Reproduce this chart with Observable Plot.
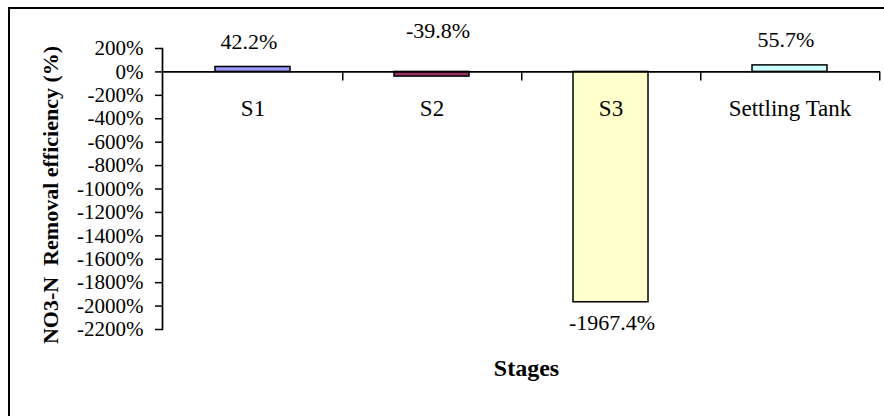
<!DOCTYPE html>
<html>
<head>
<meta charset="utf-8">
<script src="https://cdn.jsdelivr.net/npm/d3@7"></script>
<script src="https://cdn.jsdelivr.net/npm/@observablehq/plot@0.6"></script>
<style>
  html, body { margin: 0; padding: 0; background: #fff; overflow: hidden; }
  #wrap { position: relative; width: 884px; height: 416px; overflow: hidden; }
  #border { position: absolute; left: 8px; top: 7px; width: 1000px; height: 1000px;
            border-left: 2px solid #000; border-top: 2px solid #000; pointer-events: none; }
</style>
</head>
<body>
<div id="wrap"><div id="border"></div></div>
<script>
const categories = ["S1", "S2", "S3", "Settling Tank"];
const values = [42.2, -39.8, -1967.4, 55.7];
const valueLabels = ["42.2%", "-39.8%", "-1967.4%", "55.7%"];
const barColors = ["#9999ff", "#993366", "#ffffcc", "#ccffff"];
const yTicks = [200, 0, -200, -400, -600, -800, -1000, -1200, -1400, -1600, -1800, -2000, -2200];
const yTitle = "NO3-N\u00a0 Removal efficiency (%)";
const xTitle = "Stages";

const data = categories.map((c, i) => ({stage: c, value: values[i], label: valueLabels[i], color: barColors[i]}));

const W = 884, H = 416, mL = 162, mR = 4, mT = 48, mB = 87;
const step = (W - mL - mR) / categories.length;
const font = "'Liberation Serif', 'Times New Roman', serif";

const chart = Plot.plot({
  width: W, height: H,
  marginLeft: mL, marginRight: mR, marginTop: mT, marginBottom: mB,
  style: {fontFamily: font, background: "transparent", color: "#000", overflow: "visible"},
  x: {domain: categories, paddingInner: 0.58, paddingOuter: 0.29, axis: null},
  y: {domain: [-2200, 200], axis: null},
  color: {type: "identity"},
  marks: [
    Plot.barY(data, {x: "stage", y: "value", fill: "color", stroke: "#000", strokeWidth: 1.5}),
    Plot.ruleY([0], {stroke: "#000", strokeWidth: 1.7}),
    Plot.ruleX(categories, {x: d => d, y1: () => 0, y2: () => 0, dx: step / 2, insetBottom: -9, stroke: "#000", strokeWidth: 1.5}),
    Plot.frame({anchor: "left", stroke: "#000", strokeWidth: 1.7}),
    Plot.axisY(yTicks, {tickSize: 7, tickPadding: 12, fontSize: 21, tickFormat: d => d + "%", label: null, stroke: "#000", strokeWidth: 1.5}),
    Plot.text(data.filter(d => d.value > 0), {x: "stage", y: "value", text: "label", dy: -25.3, dx: -4, fontSize: 22}),
    Plot.text(data.filter(d => d.stage === "S2"), {x: "stage", y: () => 0, text: "label", dy: -41.4, dx: 6, fontSize: 22}),
    Plot.text(data.filter(d => d.stage === "S3"), {x: "stage", y: "value", text: "label", dy: 20.4, dx: 1, fontSize: 22}),
    Plot.text(categories, {x: d => d, y: () => 0, text: d => d, dy: 36.3, fontSize: 23}),
    Plot.text([xTitle], {frameAnchor: "bottom", dy: 46, dx: 5, fontSize: 24, fontWeight: "bold"}),
    Plot.text([yTitle], {frameAnchor: "left", textAnchor: "middle", rotate: -90, dx: -112, dy: 6, fontSize: 22, fontWeight: "bold"})
  ]
});
document.getElementById("wrap").prepend(chart);
</script>
</body>
</html>
